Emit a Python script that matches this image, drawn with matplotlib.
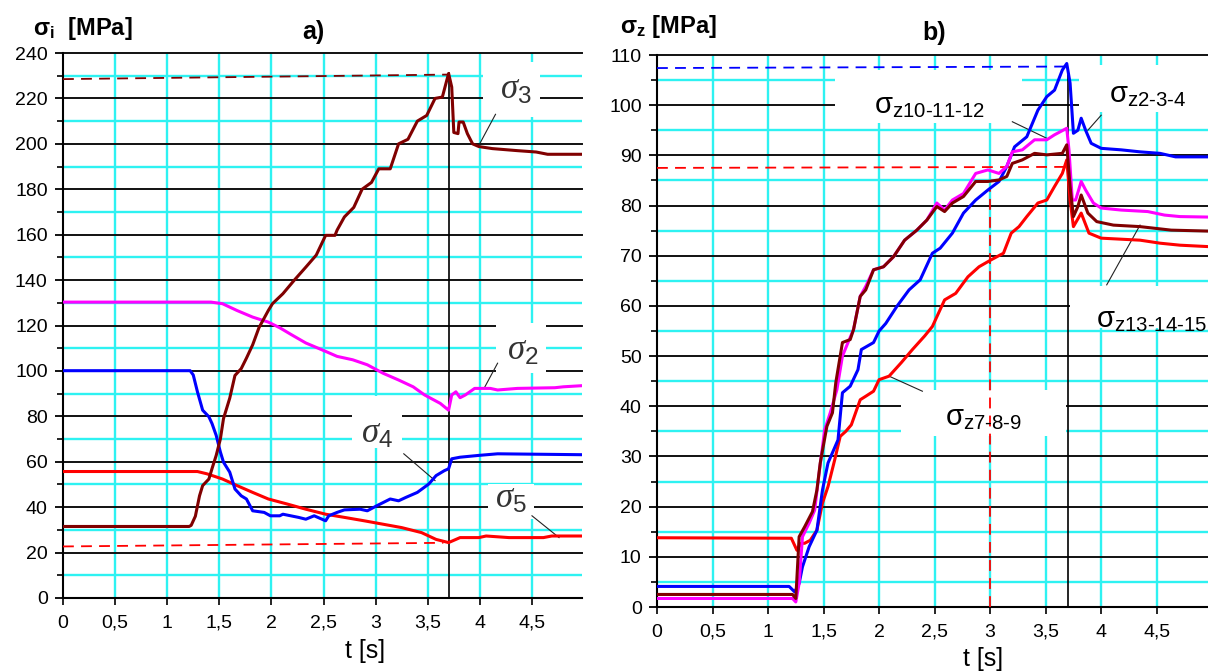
import numpy as np
import matplotlib
matplotlib.use("Agg")
import matplotlib.pyplot as plt
from matplotlib.patches import Rectangle

plt.rcParams["font.family"] = ["Liberation Sans", "DejaVu Sans"]
plt.rcParams["mathtext.fontset"] = "custom"
plt.rcParams["mathtext.rm"] = "Liberation Sans"
plt.rcParams["mathtext.it"] = "Liberation Serif:italic"
plt.rcParams["mathtext.bf"] = "Liberation Sans:bold"

# ---- panel a) : sigma_i [MPa] vs t [s] ----
t3 = [0, 1.21, 1.23, 1.27, 1.31, 1.34, 1.40, 1.43, 1.47, 1.51, 1.54, 1.60, 1.65, 1.71, 1.76,
      1.82, 1.88, 1.97, 2.01, 2.11, 2.22, 2.33, 2.43, 2.52, 2.61, 2.63, 2.70, 2.79, 2.87, 2.96,
      3.03, 3.14, 3.22, 3.31, 3.40, 3.49, 3.57, 3.64, 3.70, 3.73, 3.75, 3.79, 3.80, 3.84, 3.88,
      3.93, 3.99, 4.12, 4.36, 4.54, 4.65, 4.98]
s3 = [31.5, 31.5, 32, 36, 45, 49.5, 52.4, 57, 62.8, 70, 79, 88, 98, 101, 105.6,
      111.5, 119, 126.6, 129.6, 134, 140, 145.7, 151, 159.7, 159.7, 162, 167.8, 172, 180, 183,
      189, 189, 200, 202, 210, 212.5, 220, 220.6, 231, 225, 205, 204.5, 209.6, 209.6, 204.5,
      200, 198.8, 197.9, 197, 196.4, 195.4, 195.4]

t2 = [0, 1.42, 1.53, 1.67, 1.82, 1.97, 2.08, 2.19, 2.33, 2.52, 2.63, 2.78, 2.92, 3.07, 3.22,
      3.36, 3.47, 3.62, 3.70, 3.73, 3.77, 3.81, 3.86, 3.95, 4.10, 4.17, 4.36, 4.72, 4.80, 4.98]
s2 = [130.3, 130.3, 129.6, 126.6, 123.7, 121.5, 119, 116, 112.3, 108.6, 106.4, 104.9, 102.7, 99, 96,
      93, 89.4, 85.7, 82.7, 89.4, 90.8, 88.2, 89.4, 92.3, 92.3, 91.6, 92.3, 92.6, 93, 93.5]

t4 = [0, 1.22, 1.25, 1.29, 1.34, 1.40, 1.43, 1.47, 1.51, 1.54, 1.60, 1.65, 1.71, 1.76, 1.82,
      1.93, 1.99, 2.08, 2.11, 2.26, 2.33, 2.41, 2.52, 2.55, 2.63, 2.70, 2.85, 2.92, 3.01, 3.14,
      3.22, 3.29, 3.40, 3.51, 3.58, 3.66, 3.70, 3.73, 3.81, 3.99, 4.17, 4.98]
s4 = [100.1, 100.1, 98.2, 90.8, 82.7, 79.8, 76.8, 71.6, 64.3, 59.8, 55.4, 48, 45, 43.6, 38.4,
      37.7, 36.2, 36.2, 36.9, 35.5, 34.7, 36.2, 34, 36.2, 37.7, 38.8, 39.1, 38.4, 40.6, 43.6,
      42.8, 44.3, 46.5, 50.2, 53.9, 56.1, 56.9, 61.3, 62, 62.8, 63.5, 63.1]

t5 = [0, 1.29, 1.38, 1.53, 1.67, 1.82, 1.97, 2.15, 2.33, 2.52, 2.70, 2.89, 3.07, 3.25, 3.44,
      3.58, 3.70, 3.81, 3.99, 4.06, 4.28, 4.61, 4.69, 4.98]
s5 = [55.7, 55.7, 54.7, 52.4, 49.5, 46.5, 43.6, 41.4, 39.1, 36.9, 35.5, 34, 32.5, 31, 28.8,
      25.8, 24.4, 26.6, 26.6, 27.3, 26.6, 26.6, 27.3, 27.3]

# ---- panel b) : sigma_z [MPa] vs t [s] ----
tb = [0, 1.19, 1.24, 1.28, 1.31, 1.37, 1.44, 1.49, 1.54, 1.63, 1.67, 1.74, 1.81, 1.84, 1.95,
      2.0, 2.06, 2.16, 2.27, 2.37, 2.48, 2.55, 2.66, 2.76, 2.87, 2.98, 3.08, 3.15, 3.22, 3.33,
      3.43, 3.51, 3.58, 3.65, 3.69, 3.72, 3.75, 3.79, 3.82, 3.86, 3.91, 4.0, 4.18, 4.35, 4.53,
      4.67, 4.98]
sb = [4.1, 4.1, 3, 4.7, 8, 12, 15.3, 23.3, 28.7, 33.3, 42.7, 44, 47.3, 51.3, 52.7,
      55, 56.5, 59.9, 63.2, 65.2, 70.5, 71.5, 74.5, 78.5, 81.1, 83.1, 84.8, 87.8, 91.7, 93.7,
      99, 101.7, 103, 107, 108.3, 104.4, 94.4, 95, 97.4, 95, 92.4, 91.4, 91.1, 90.7, 90.4,
      89.7, 89.7]

tm = [0, 1.22, 1.25, 1.28, 1.31, 1.37, 1.42, 1.46, 1.51, 1.56, 1.62, 1.67, 1.72, 1.77, 1.83,
      1.88, 1.95, 2.04, 2.13, 2.23, 2.34, 2.43, 2.52, 2.59, 2.66, 2.76, 2.87, 2.98, 3.08, 3.15,
      3.20, 3.29, 3.40, 3.51, 3.58, 3.69, 3.71, 3.74, 3.77, 3.82, 3.86, 3.93, 4.0, 4.18, 4.42,
      4.57, 4.71, 4.98]
sm = [1.7, 1.7, 1.0, 4.7, 14, 16.7, 19.3, 26.7, 35.3, 38.7, 43.3, 50, 52.7, 55.3, 61.9,
      63.9, 67.2, 67.8, 69.8, 73.1, 75.1, 77.1, 80.5, 79.1, 81.1, 82.4, 86.4, 87.1, 86.4, 87.8,
      90.7, 91.1, 93.1, 93.1, 94.1, 95.4, 91.1, 81.1, 81.1, 84.8, 83.1, 80.5, 79.5, 79.1, 78.8,
      78.1, 77.8, 77.7]

tr = [0, 1.22, 1.25, 1.28, 1.33, 1.40, 1.44, 1.47, 1.53, 1.58, 1.61, 1.67, 1.74, 1.77, 1.83,
      1.88, 1.95, 2.04, 2.13, 2.23, 2.34, 2.43, 2.52, 2.59, 2.66, 2.76, 2.87, 2.98, 3.08, 3.15,
      3.20, 3.29, 3.40, 3.51, 3.65, 3.69, 3.72, 3.75, 3.79, 3.82, 3.88, 3.96, 4.11, 4.35, 4.63,
      4.98]
sr = [2.5, 2.5, 1.7, 14, 16, 19, 23.3, 28.7, 36, 38.7, 44.7, 52.7, 53.3, 55.3, 61.9,
      63.2, 67.2, 67.8, 69.8, 73.1, 75.1, 77.1, 79.8, 78.8, 80.5, 81.8, 84.8, 84.8, 85.1, 85.8,
      88.4, 89.1, 90.4, 90.1, 90.4, 92.1, 83.8, 77.8, 79.8, 82.1, 78.5, 76.8, 76.1, 75.8, 75.1,
      74.9]

tz = [0, 1.21, 1.26, 1.30, 1.33, 1.38, 1.44, 1.49, 1.54, 1.60, 1.65, 1.70, 1.75, 1.83, 1.88,
      1.95, 2.0, 2.09, 2.20, 2.30, 2.41, 2.48, 2.59, 2.69, 2.80, 2.90, 3.01, 3.12, 3.19, 3.26,
      3.33, 3.43, 3.51, 3.58, 3.65, 3.69, 3.72, 3.75, 3.82, 3.89, 4.0, 4.35, 4.53, 4.71, 4.98]
sz = [13.8, 13.7, 11.3, 12.7, 12.7, 13.3, 15.3, 20.7, 24, 29.3, 34, 35, 36.3, 41.3, 42,
      43, 45.3, 46, 48.7, 51.3, 54, 55.9, 61.2, 62.5, 65.8, 67.8, 69.2, 70.5, 74.5, 75.8,
      77.8, 80.5, 81.1, 83.8, 86.4, 89.1, 81.1, 75.8, 78.5, 74.5, 73.5, 73.1, 72.5, 72.1, 71.8]

xticks = [0, 0.5, 1, 1.5, 2, 2.5, 3, 3.5, 4, 4.5]
xticklabels = ["0", "0,5", "1", "1,5", "2", "2,5", "3", "3,5", "4", "4,5"]

CYAN = "#2ef2f2"
BROWN, MAGENTA, BLUE, RED = "#800000", "#ff00ff", "#0000ff", "#ff0000"

W, H = 1208, 672
fig = plt.figure(figsize=(W / 100, H / 100), dpi=100)


def px(l, t, r, b):
    return [l / W, 1 - b / H, (r - l) / W, (b - t) / H]


def frame(ax, ymax, ystep, xmax):
    ax.set_xlim(0, xmax)
    ax.set_ylim(0, ymax)
    for y in np.arange(ystep / 2, ymax, ystep):
        ax.axhline(y, color=CYAN, lw=1.7, zorder=0.1)
    for x in np.arange(0.5, xmax, 0.5):
        ax.axvline(x, color=CYAN, lw=1.7, zorder=0.1)
    for y in np.arange(ystep, ymax + 1, ystep):
        ax.axhline(y, color="#111111", lw=1.4, zorder=0.2, clip_on=False)
    for s in ("top", "right"):
        ax.spines[s].set_visible(False)
    for s in ("left", "bottom"):
        ax.spines[s].set_linewidth(1.5)
        ax.spines[s].set_zorder(0.3)
    ax.set_yticks(np.arange(0, ymax + 1, ystep))
    ax.set_yticks(np.arange(ystep / 2, ymax, ystep), minor=True)
    ax.set_xticks(xticks)
    ax.set_xticklabels(xticklabels)
    ax.tick_params(axis="y", which="major", length=6, width=1.3, pad=5, labelsize=14)
    ax.tick_params(axis="y", which="minor", length=4, width=1.2)
    ax.tick_params(axis="x", length=5, width=1.2, pad=7, labelsize=14)
    ax.set_facecolor("white")


def blank(ax, x0, x1, y0, y1):
    ax.add_patch(Rectangle((x0, y0), x1 - x0, y1 - y0, facecolor="white",
                           edgecolor="none", zorder=0.5))


def lead(ax, p, q):
    ax.plot([p[0], q[0]], [p[1], q[1]], color="#222222", lw=0.8, zorder=2)


# ================= a) =================
axa = fig.add_axes(px(63, 53, 582, 598))
frame(axa, 240, 20, 4.98)
blank(axa, 4.03, 4.58, 212, 236)
blank(axa, 4.15, 4.63, 99, 121)
blank(axa, 2.77, 3.25, 66, 89)
blank(axa, 4.08, 4.52, 35, 50)

axa.plot([0, 3.70], [228.5, 230.5], color=BROWN, lw=1.3, ls=(0, (6, 4)), zorder=2)
axa.plot([0, 3.65], [22.7, 24.3], color=RED, lw=1.3, ls=(0, (6, 4)), zorder=2)
axa.plot([3.70, 3.70], [0, 231], color="black", lw=1.2, zorder=2)

axa.plot(t5, s5, color=RED, lw=2.2, zorder=3)
axa.plot(t4, s4, color=BLUE, lw=2.2, zorder=3)
axa.plot(t2, s2, color=MAGENTA, lw=2.2, zorder=3)
axa.plot(t3, s3, color=BROWN, lw=2.2, zorder=3)

axa.text(4.34, 224, r"$\sigma_3$", fontsize=25, ha="center", va="center", color="#333333", zorder=2)
axa.text(4.41, 109, r"$\sigma_2$", fontsize=25, ha="center", va="center", color="#333333", zorder=2)
axa.text(3.01, 72.4, r"$\sigma_4$", fontsize=25, ha="center", va="center", color="#333333", zorder=2)
axa.text(4.30, 43.6, r"$\sigma_5$", fontsize=25, ha="center", va="center", color="#333333", zorder=2)
lead(axa, (4.15, 213), (3.99, 199.3))
lead(axa, (4.17, 103.4), (4.04, 92.3))
lead(axa, (3.27, 63.5), (3.57, 51.7))
lead(axa, (4.50, 36.2), (4.76, 26.6))

# ================= b) =================
axb = fig.add_axes(px(657, 55, 1210, 607))
frame(axb, 110, 10, 4.98)
blank(axb, 1.60, 3.29, 96.4, 107.0)
blank(axb, 3.80, 4.98, 98.7, 108.0)
blank(axb, 3.72, 4.98, 55.5, 64.0)
blank(axb, 2.20, 3.68, 34.0, 43.3)

axb.plot([0, 3.69], [107.4, 107.7], color=BLUE, lw=1.3, ls=(0, (6, 4)), zorder=2)
axb.plot([0, 3.69], [87.5, 87.7], color=RED, lw=1.3, ls=(0, (6, 4)), zorder=2)
axb.plot([3.0, 3.0], [0, 83], color=RED, lw=1.3, ls=(0, (6, 4)), zorder=2)
axb.plot([3.70, 3.70], [0, 106], color="black", lw=1.2, zorder=2)

axb.plot(tz, sz, color=RED, lw=2.2, zorder=3)
axb.plot(tb, sb, color=BLUE, lw=2.2, zorder=3)
axb.plot(tm, sm, color=MAGENTA, lw=2.2, zorder=3)
axb.plot(tr, sr, color=BROWN, lw=2.2, zorder=3)

axb.text(2.45, 99.8, r"$\mathrm{\sigma}_{\text{z10-11-12}}$", fontsize=21, ha="center", va="center", zorder=2)
axb.text(4.42, 102.0, r"$\mathrm{\sigma}_{\text{z2-3-4}}$", fontsize=21, ha="center", va="center", zorder=2)
axb.text(4.45, 57.2, r"$\mathrm{\sigma}_{\text{z13-14-15}}$", fontsize=21, ha="center", va="center", zorder=2)
axb.text(2.94, 37.7, r"$\mathrm{\sigma}_{\text{z7-8-9}}$", fontsize=21, ha="center", va="center", zorder=2)
lead(axb, (3.20, 96.7), (3.51, 93.4))
lead(axb, (4.0, 98.0), (3.88, 95.0))
lead(axb, (4.05, 64.2), (4.35, 76.1))
lead(axb, (2.09, 46.0), (2.39, 43.0))

# ---- titles and axis names ----
fig.text(33 / W, 1 - 28 / H, r"$\mathbf{\sigma}_{\mathbf{i}}$  [MPa]", fontsize=17, fontweight="bold",
         ha="left", va="center")
fig.text(313 / W, 1 - 32 / H, "a)", fontsize=18, fontweight="bold", ha="center", va="center")
fig.text(365 / W, 1 - 651 / H, "t [s]", fontsize=18, ha="center", va="center")
fig.text(620 / W, 1 - 27 / H, r"$\mathbf{\sigma}_{\mathbf{z}}$ [MPa]", fontsize=17, fontweight="bold",
         ha="left", va="center")
fig.text(934 / W, 1 - 33 / H, "b)", fontsize=18, fontweight="bold", ha="center", va="center")
fig.text(983 / W, 1 - 659 / H, "t [s]", fontsize=18, ha="center", va="center")

fig.savefig("out.png", dpi=100)
